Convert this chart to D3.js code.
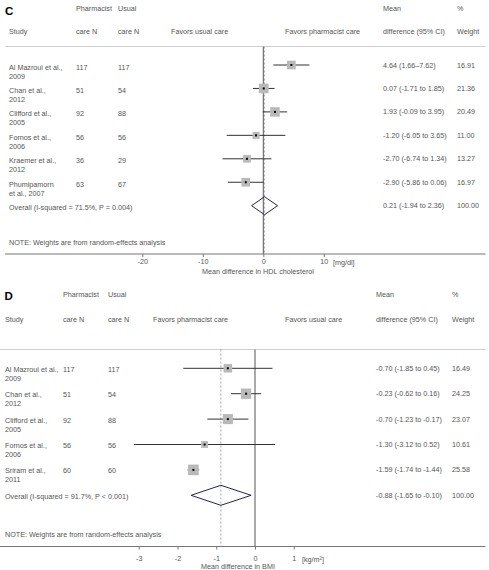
<!DOCTYPE html>
<html><head><meta charset="utf-8">
<script src="https://cdn.jsdelivr.net/npm/d3@7"></script>
<style>body{margin:0;background:#fff} svg{display:block}</style>
</head><body><svg id="chart" width="489" height="570"></svg>
<script>
// ---------- Panel C: HDL cholesterol ----------
const studiesC = ["Al Mazroui et al.,|2009","Chan et al.,|2012","Clifford et al.,|2005","Fornos et al.,|2006","Kraemer et al.,|2012","Phumipamorn|et al., 2007"];
const pharmNC  = [117, 51, 92, 56, 36, 63];
const usualNC  = [117, 54, 88, 56, 29, 67];
const meanC    = [4.64, 0.07, 1.93, -1.20, -2.70, -2.90];
const lowC     = [1.66, -1.71, -0.09, -6.05, -6.74, -5.86];
const highC    = [7.62, 1.85, 3.95, 3.65, 1.34, 0.06];
const weightC  = [16.91, 21.36, 20.49, 11.00, 13.27, 16.97];
const overallC = [0.21, -1.94, 2.36];
const hetC     = "Overall  (I-squared = 71.5%, P = 0.004)";
const ticksC   = [-20, -10, 0, 10];

// ---------- Panel D: BMI ----------
const studiesD = ["Al Mazroui et al.,|2009","Chan et al.,|2012","Clifford et al.,|2005","Fornos et al.,|2006","Sriram et al.,|2011"];
const pharmND  = [117, 51, 92, 56, 60];
const usualND  = [117, 54, 88, 56, 60];
const meanD    = [-0.70, -0.23, -0.70, -1.30, -1.59];
const lowD     = [-1.85, -0.62, -1.23, -3.12, -1.74];
const highD    = [0.45, 0.16, -0.17, 0.52, -1.44];
const weightD  = [16.49, 24.25, 23.07, 10.61, 25.58];
const overallD = [-0.88, -1.65, -0.10];
const hetD     = "Overall  (I-squared = 91.7%, P < 0.001)";
const ticksD   = [-3, -2, -1, 0, 1];

const svg = d3.select("#chart");
const FONT = "'Liberation Sans', Arial, sans-serif";
const TXT = "#555";
const fmt = v => v.toFixed(2);

function panel(cfg) {
  const g = svg.append("g");
  const n = cfg.studies.length;
  const x = d3.scaleLinear().domain([0, 1]).range([cfg.zero, cfg.zero + cfg.unit]);
  const y = d3.scaleLinear().domain([0, n]).range([cfg.row0, cfg.row0 + n * cfg.step]);

  const text = (tx, ty, s, anchor) => g.append("text")
    .attr("x", tx).attr("y", ty).attr("dy", "0.35em")
    .attr("text-anchor", anchor || "start")
    .attr("font-family", FONT).attr("font-size", 7.2).attr("fill", TXT).text(s);

  // panel letter
  g.append("text").attr("x", cfg.letterX).attr("y", cfg.letterY)
    .attr("font-family", FONT).attr("font-size", 11.5).attr("font-weight", "bold")
    .attr("fill", "#000").text(cfg.letter);

  // headers
  text(cfg.cols.pharm, cfg.h1, "Pharmacist");
  text(cfg.cols.usual, cfg.h1, "Usual");
  text(cfg.cols.mean, cfg.h1, "Mean");
  text(cfg.cols.weight, cfg.h1, "%");
  text(cfg.cols.study, cfg.h2, "Study");
  text(cfg.cols.pharm, cfg.h2, "care N");
  text(cfg.cols.usual, cfg.h2, "care N");
  text(cfg.cols.favL, cfg.h2, cfg.favL);
  text(cfg.cols.favR, cfg.h2, cfg.favR);
  text(cfg.cols.mean, cfg.h2, "difference (95% CI)");
  text(cfg.cols.weight, cfg.h2, "Weight");

  // separator
  g.append("line").attr("x1", cfg.sepX1).attr("x2", 485.5)
    .attr("y1", cfg.sepY).attr("y2", cfg.sepY)
    .attr("stroke", "#cfcfcf").attr("stroke-width", 1);

  // reference lines
  g.append("line").attr("x1", x(0)).attr("x2", x(0))
    .attr("y1", cfg.sepY).attr("y2", cfg.axisY)
    .attr("stroke", "#555").attr("stroke-width", 1);
  g.append("line").attr("x1", x(cfg.overall[0])).attr("x2", x(cfg.overall[0]))
    .attr("y1", cfg.sepY).attr("y2", cfg.axisY)
    .attr("stroke", "#aaa").attr("stroke-width", 1).attr("stroke-dasharray", "2,2");

  // rows
  cfg.studies.forEach((s, i) => {
    const yy = y(i);
    const parts = s.split("|");
    text(cfg.cols.study, yy + cfg.nameDy, parts[0]);
    if (parts[1]) text(cfg.cols.study, yy + cfg.nameDy + 9, parts[1]);
    text(cfg.cols.pharm, yy + cfg.nameDy, cfg.pharmN[i]);
    text(cfg.cols.usual, yy + cfg.nameDy, cfg.usualN[i]);
    const sep = cfg.dashFirst && i === 0 ? "\u2013" : " to ";
    text(cfg.cols.mean, yy, `${fmt(cfg.mean[i])} (${fmt(cfg.low[i])}${sep}${fmt(cfg.high[i])})`);
    text(cfg.cols.weight, yy, fmt(cfg.weight[i]));

    const side = 2.1 * Math.sqrt(cfg.weight[i]);
    g.append("line").attr("x1", x(cfg.low[i])).attr("x2", x(cfg.high[i]))
      .attr("y1", yy).attr("y2", yy).attr("stroke", "#333").attr("stroke-width", 1);
    g.append("rect").attr("x", x(cfg.mean[i]) - side / 2).attr("y", yy - side / 2)
      .attr("width", side).attr("height", side).attr("fill", "#b9b9b9");
    g.append("rect").attr("x", x(cfg.mean[i]) - 1).attr("y", yy - 1)
      .attr("width", 2).attr("height", 2).attr("fill", "#000");
  });

  // overall
  const yo = y(n);
  text(cfg.cols.study, yo + cfg.nameDy, cfg.het);
  text(cfg.cols.mean, yo, `${fmt(cfg.overall[0])} (${fmt(cfg.overall[1])} to ${fmt(cfg.overall[2])})`);
  text(cfg.cols.weight, yo, "100.00");
  const h = cfg.diamondH;
  g.append("polygon")
    .attr("points", [[x(cfg.overall[1]), yo], [x(cfg.overall[0]), yo - h], [x(cfg.overall[2]), yo], [x(cfg.overall[0]), yo + h]].map(p => p.join(",")).join(" "))
    .attr("fill", "none").attr("stroke", "#23235f").attr("stroke-width", 1);

  // note
  text(cfg.cols.study, cfg.noteY, "NOTE: Weights are from random-effects analysis");

  // axis
  g.append("line").attr("x1", cfg.sepX1).attr("x2", 485.5)
    .attr("y1", cfg.axisY).attr("y2", cfg.axisY).attr("stroke", "#777").attr("stroke-width", 1);
  const axis = d3.axisBottom(x).tickValues(cfg.ticks).tickSize(3).tickPadding(cfg.tickPad).tickFormat(d => String(d));
  const ag = g.append("g").attr("transform", `translate(0,${cfg.axisY})`).call(axis);
  ag.select(".domain").remove();
  ag.selectAll("line").attr("stroke", "#777");
  ag.selectAll("text").attr("font-family", FONT).attr("font-size", 7.2).attr("fill", TXT);
  text(cfg.unitX, cfg.axisY + cfg.unitDy, cfg.unit_label);
  g.append("text").attr("x", cfg.titleX).attr("y", cfg.titleY).attr("text-anchor", "middle")
    .attr("font-family", FONT).attr("font-size", 7.2).attr("fill", TXT).text(cfg.title);
}

panel({
  letter: "C", letterX: 5, letterY: 15,
  studies: studiesC, pharmN: pharmNC, usualN: usualNC, mean: meanC, low: lowC, high: highC,
  weight: weightC, overall: overallC, het: hetC, ticks: ticksC, dashFirst: true,
  favL: "Favors usual care", favR: "Favors pharmacist care",
  cols: {study: 9, pharm: 76, usual: 118, favL: 171, favR: 285, mean: 383, weight: 457},
  h1: 8.3, h2: 31, sepY: 46.5, sepX1: 5, row0: 65, step: 23.45, nameDy: 2,
  zero: 263.3, unit: 6.05, diamondH: 9, axisY: 254, noteY: 242.7,
  tickPad: 2, unitDy: 8,
  unitX: 333, unit_label: "[mg/dl]", titleX: 258, titleY: 273.8,
  title: "Mean difference in HDL cholesterol"
});

panel({
  letter: "D", letterX: 4.5, letterY: 300,
  studies: studiesD, pharmN: pharmND, usualN: usualND, mean: meanD, low: lowD, high: highD,
  weight: weightD, overall: overallD, het: hetD, ticks: ticksD, dashFirst: false,
  favL: "Favors pharmacist care", favR: "Favors usual care",
  cols: {study: 5, pharm: 63, usual: 108, favL: 153, favR: 285, mean: 376, weight: 452},
  h1: 294, h2: 319, sepY: 349.5, sepX1: 0, row0: 368.3, step: 25.4, nameDy: 1,
  zero: 255, unit: 38.75, diamondH: 10, axisY: 546.5, noteY: 534.3,
  tickPad: 6, unitDy: 12.5,
  unitX: 302, unit_label: "[kg/m\u00B2]", titleX: 238, titleY: 569,
  title: "Mean difference in BMI"
});
</script>
</body></html>
